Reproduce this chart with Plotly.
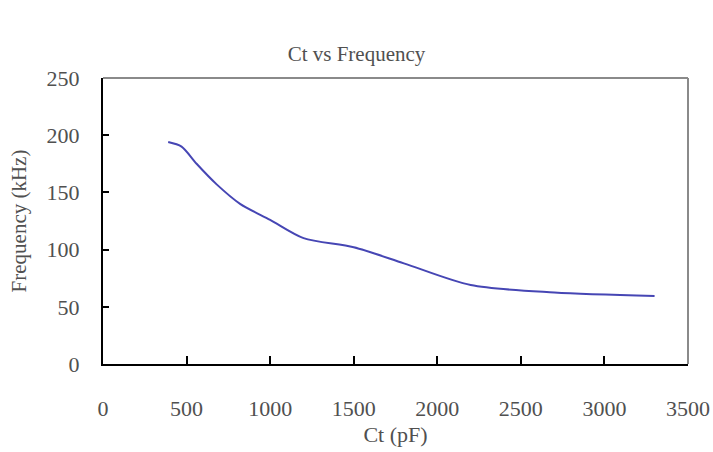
import plotly.graph_objects as go

ct_pf = [390, 470, 560, 680, 820, 1000, 1200, 1500, 1800, 2200, 2700, 3300]
freq_khz = [194, 190, 175, 157, 140, 126, 110, 102, 88, 69, 62.5, 59.5]

x_ticks = [0, 500, 1000, 1500, 2000, 2500, 3000, 3500]
y_ticks = [0, 50, 100, 150, 200, 250]

font_family = "Liberation Serif, Times New Roman, serif"
text_color = "#505050"

fig = go.Figure()
fig.add_trace(go.Scatter(
    x=ct_pf, y=freq_khz, mode="lines",
    line=dict(color="#4646b4", width=2, shape="spline", smoothing=0.8),
    showlegend=False, hoverinfo="skip",
))

fig.update_layout(
    width=713, height=452,
    margin=dict(l=103, r=25, t=78, b=88),
    paper_bgcolor="white", plot_bgcolor="white",
    font=dict(family=font_family, color=text_color, size=22),
    title=dict(text="Ct vs Frequency", x=0.5, xref="container", xanchor="center",
               y=1 - 54 / 452, yref="container", yanchor="middle",
               font=dict(size=21, color=text_color, family=font_family)),
)
fig.update_xaxes(
    range=[0, 3500], tickvals=x_ticks, ticktext=[str(v) for v in x_ticks],
    showgrid=False, zeroline=False, automargin=False,
    showline=True, linecolor="black", linewidth=2,
    ticks="inside", ticklen=8, tickcolor="black", tickwidth=2,
    ticklabelstandoff=24,
    tickfont=dict(size=22, color=text_color),
    title=dict(text="Ct (pF)", standoff=6, font=dict(size=22, color=text_color)),
)
fig.update_yaxes(
    range=[0, 250], tickvals=y_ticks, ticktext=[str(v) for v in y_ticks],
    showgrid=False, zeroline=False, automargin=False,
    showline=True, linecolor="black", linewidth=2,
    ticks="inside", ticklen=6, tickcolor="black", tickwidth=2,
    ticklabelstandoff=17,
    tickfont=dict(size=22, color=text_color),
    title=dict(text="Frequency (kHz)", standoff=14, font=dict(size=21, color=text_color)),
)
# grey top and right border
fig.add_shape(type="line", xref="paper", yref="paper", x0=0, x1=1, y0=1, y1=1,
              line=dict(color="#8a8a8a", width=2))
fig.add_shape(type="line", xref="paper", yref="paper", x0=1, x1=1, y0=0, y1=1,
              line=dict(color="#8a8a8a", width=2))

fig.write_html("out.html")
